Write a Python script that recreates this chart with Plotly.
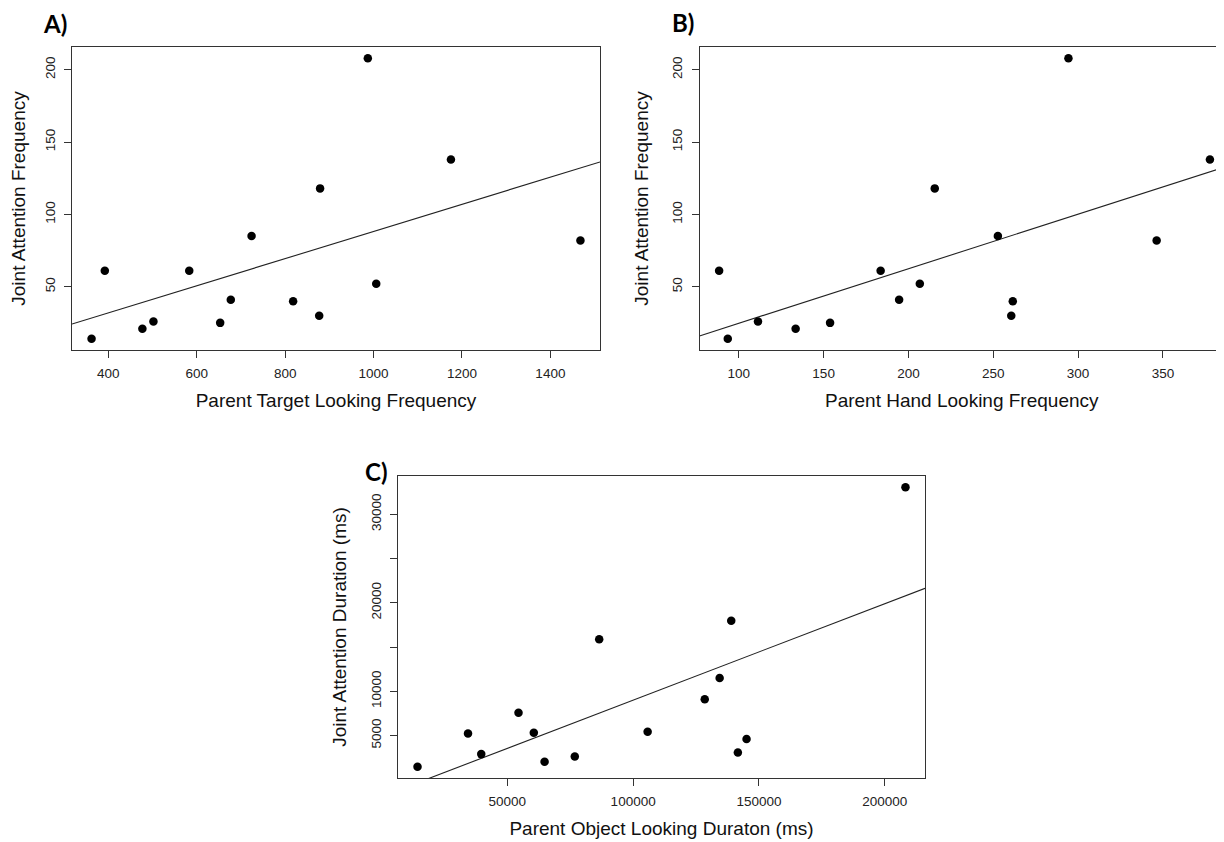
import numpy as np
import plotly.graph_objects as go

# ---- data ----
joint_freq = [14, 61, 21, 26, 61, 25, 41, 85, 40, 30, 118, 208, 52, 138, 82]
target_freq = [362, 392, 477, 502, 583, 653, 677, 724, 818, 877, 879, 987, 1006, 1175, 1468]

hand_x = [93.5, 88.4, 133.5, 111.3, 183.6, 153.8, 194.5, 252.7, 261.5, 260.6, 215.5, 294.3, 206.7, 377.7, 346.3]

obj_dur = [14309, 34375, 39638, 54441, 60526, 64803, 76809, 86513, 105757, 128454, 134375, 138980, 141612, 145066, 208224]
joint_dur = [1472, 5245, 2906, 7585, 5321, 2038, 2642, 15887, 5434, 9094, 11509, 17962, 3094, 4604, 33057]

tickA_x = [400, 600, 800, 1000, 1200, 1400]
tickB_x = [100, 150, 200, 250, 300, 350]
tick_freq_y = [50, 100, 150, 200]
tickC_x = [50000, 100000, 150000, 200000]
tickC_x_text = ["50000", "100000", "150000", "200000"]
tickC_y = [5000, 10000, 15000, 20000, 25000, 30000]
tickC_y_text = ["5000", "10000", "", "20000", "", "30000"]

FONT = "Liberation Sans, Arial, sans-serif"


def rrange(v):
    lo, hi = min(v), max(v)
    pad = (hi - lo) * 0.04
    return [lo - pad, hi + pad]


def fit_line(x, y, xr):
    b, a = np.polyfit(x, y, 1)
    xs = np.array(xr)
    return xs, a + b * xs


fig = go.Figure()

panels = [
    (target_freq, joint_freq, "x", "y", rrange(target_freq), rrange(joint_freq)),
    (hand_x, joint_freq, "x2", "y2", [rrange(hand_x)[0], 386], rrange(joint_freq)),
    (obj_dur, joint_dur, "x3", "y3", rrange(obj_dur), rrange(joint_dur)),
]
for xs, ys, xa, ya, xr, yr in panels:
    lx, ly = fit_line(xs, ys, xr)
    fig.add_trace(go.Scatter(x=lx, y=ly, mode="lines", xaxis=xa, yaxis=ya,
                             line=dict(color="#222222", width=1.1), showlegend=False,
                             hoverinfo="skip"))
    fig.add_trace(go.Scatter(x=xs, y=ys, mode="markers", xaxis=xa, yaxis=ya,
                             marker=dict(color="black", size=8.5), showlegend=False))

# page body has an 8px margin: figure drawn at (8, 8)
OFF = 8
W, H = 1216, 834
def dx(p):
    return (p - OFF) / W
def dy(p):
    return 1 - (p - OFF) / H

tickfont = dict(family=FONT, size=13.5, color="#222222")
titlefont = dict(family=FONT, size=19, color="#111111")

common_x = dict(showline=True, linecolor="#333333", linewidth=1, ticks="outside",
                ticklen=7, tickcolor="#333333", tickfont=tickfont, showgrid=False,
                zeroline=False, title_font=titlefont, title_standoff=13,
                ticklabelstandoff=4, automargin=False)
common_y = dict(showline=True, linecolor="#333333", linewidth=1, ticks="outside",
                ticklen=7, tickcolor="#333333", tickfont=tickfont, showgrid=False,
                zeroline=False, tickangle=-90, title_font=titlefont, title_standoff=16,
                ticklabelstandoff=4, automargin=False)

fig.update_layout(
    width=W, height=H, paper_bgcolor="white", plot_bgcolor="white",
    margin=dict(l=0, r=0, t=0, b=0),
    xaxis=dict(domain=[dx(72), dx(600)], anchor="y", range=panels[0][4],
               tickvals=tickA_x, mirror=True,
               title_text="Parent Target Looking Frequency", **common_x),
    yaxis=dict(domain=[dy(350), dy(47)], anchor="x", range=panels[0][5],
               tickvals=tick_freq_y, mirror=True,
               title_text="Joint Attention Frequency", **common_y),
    xaxis2=dict(domain=[dx(699.5), 1.0], anchor="y2", range=panels[1][4],
                tickvals=tickB_x, mirror=True,
                title_text="Parent Hand Looking Frequency", **common_x),
    yaxis2=dict(domain=[dy(350), dy(47)], anchor="x2", range=panels[1][5],
                tickvals=tick_freq_y, mirror=False,
                title_text="Joint Attention Frequency", **common_y),
    xaxis3=dict(domain=[dx(398), dx(925)], anchor="y3", range=panels[2][4],
                tickvals=tickC_x, ticktext=tickC_x_text, mirror=True,
                title_text="Parent Object Looking Duraton (ms)", **common_x),
    yaxis3=dict(domain=[dy(778), dy(476)], anchor="x3", range=panels[2][5],
                tickvals=tickC_y, ticktext=tickC_y_text, mirror=True,
                title_text="Joint Attention Duration (ms)", **common_y),
)

labels = [("A)", 41, 23), ("B)", 670, 22), ("C)", 363, 471)]
for t, px, py in labels:
    fig.add_annotation(text="<b>%s</b>" % t, x=dx(px), y=dy(py), xref="paper", yref="paper",
                       xanchor="left", yanchor="middle", showarrow=False,
                       font=dict(family="Lato, Open Sans, sans-serif", size=24, color="black"))

fig.write_html("out.html")
